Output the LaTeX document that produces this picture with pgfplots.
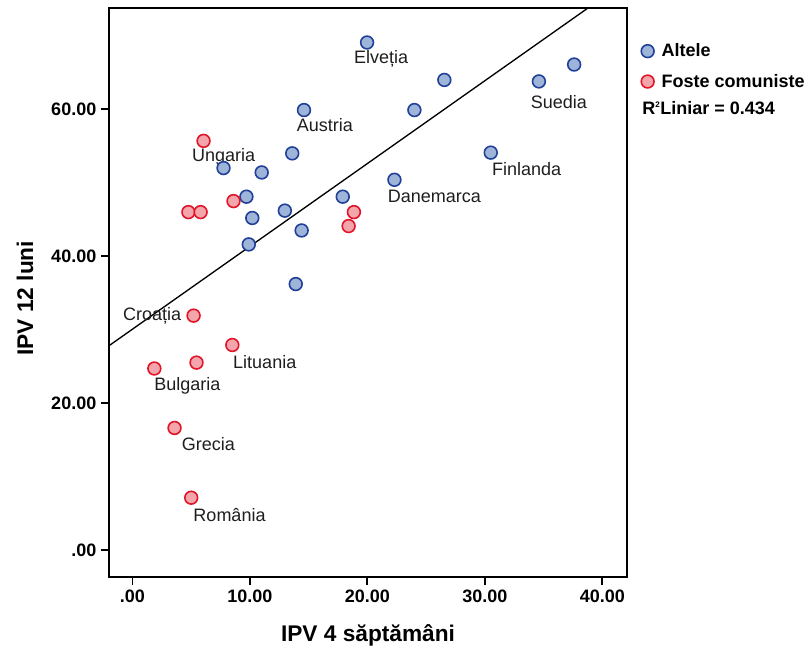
\documentclass[border=0pt]{standalone}
\usepackage{fontspec}
\setmainfont{Liberation Sans}
\usepackage{pgfplots}
\pgfplotsset{compat=1.18}
\definecolor{altFill}{RGB}{158,180,216}
\definecolor{altEdge}{RGB}{33,64,154}
\definecolor{comFill}{RGB}{242,166,172}
\definecolor{comEdge}{RGB}{226,20,40}
\definecolor{lblGray}{RGB}{30,30,30}
\tikzset{lbl/.style={font=\fontsize{13.5}{16}\selectfont, text=lblGray, inner sep=0pt}}

% IPV 4 weeks (x) vs IPV 12 months (y)
\pgfplotstableread{
x     y
19.97 69.1
26.55 64.0
34.60 63.8
37.60 66.1
14.60 59.9
24.00 59.9
30.50 54.1
13.60 54.0
7.75  52.0
11.00 51.4
22.30 50.4
9.70  48.1
17.90 48.1
12.97 46.2
10.20 45.2
14.40 43.5
9.90  41.6
13.90 36.2
}\altele

\pgfplotstableread{
x     y
6.05  55.7
8.60  47.5
4.76  46.0
5.80  46.0
18.85 46.0
18.40 44.1
5.20  31.9
8.50  27.9
5.45  25.5
1.86  24.7
3.58  16.6
5.00  7.1
}\comuniste

\begin{document}
\begin{tikzpicture}
\begin{axis}[
  scale only axis, clip=false,
  width=388.5pt, height=426.75pt,
  xmin=-2.0, xmax=42.1, ymin=-3.7, ymax=73.8,
  xtick={0,10,20,30,40},
  xticklabels={\textbf{.00},\textbf{10.00},\textbf{20.00},\textbf{30.00},\textbf{40.00}},
  ytick={0,20,40,60},
  yticklabels={\textbf{.00},\textbf{20.00},\textbf{40.00},\textbf{60.00}},
  /pgf/number format/assume math mode=true,
  tick align=outside, tick pos=left, major tick length=6pt,
  axis line style={line width=1.4pt},
  tick style={line width=1.4pt, black},
  ticklabel style={font=\fontsize{13.5}{16}\selectfont\bfseries},
  xlabel={IPV 4 săptămâni}, ylabel={IPV 12 luni},
  label style={font=\fontsize{17}{20}\selectfont\bfseries},
  xlabel style={at={(axis description cs:0.5,-0.102)}, anchor=center},
  ylabel style={at={(axis description cs:-0.162,0.49)}, anchor=center},
  legend style={at={(axis description cs:1.027,0.9425)}, anchor=north west,
    draw=none, fill=none, inner sep=0pt, row sep=7.5pt,
    font=\fontsize{13.5}{16}\selectfont\bfseries},
  legend cell align=left,
  legend image code/.code={\draw[#1] plot coordinates {(0pt,0pt)}; \path (8.2pt,0pt);},
]
\addplot[black, line width=1pt, forget plot] coordinates {(-2.0,27.8) (38.78,73.8)};

\addplot[only marks, mark=*, mark size=4.8pt,
  mark options={fill=altFill, draw=altEdge, line width=1.2pt}] table {\altele};
\addlegendentry{Altele}
\addplot[only marks, mark=*, mark size=4.8pt,
  mark options={fill=comFill, draw=comEdge, line width=1.2pt}] table {\comuniste};
\addlegendentry{Foste comuniste}

\node[lbl] at (axis cs:21.17,66.9) {Elveția};
\node[lbl] at (axis cs:16.38,57.9) {Austria};
\node[lbl] at (axis cs:7.75,53.5) {Ungaria};
\node[lbl] at (axis cs:36.3,61.0) {Suedia};
\node[lbl] at (axis cs:33.56,51.8) {Finlanda};
\node[lbl] at (axis cs:25.7,48.2) {Danemarca};
\node[lbl] at (axis cs:1.68,31.9) {Croația};
\node[lbl] at (axis cs:11.26,25.6) {Lituania};
\node[lbl] at (axis cs:4.68,22.3) {Bulgaria};
\node[lbl] at (axis cs:6.47,14.4) {Grecia};
\node[lbl] at (axis cs:8.26,4.8) {România};

\node[anchor=west, inner sep=0pt, font=\fontsize{13.5}{16}\selectfont\bfseries]
  at (axis description cs:1.029,0.824) {R\textsuperscript{\fontsize{6}{6}\selectfont 2}Liniar = 0.434};

\coordinate (sw) at (rel axis cs:0,0);
\coordinate (ne) at (rel axis cs:1,1);
\end{axis}
\pgfresetboundingbox
\path[use as bounding box] ([xshift=-81.75pt,yshift=-56.25pt]sw) rectangle ([xshift=138.75pt,yshift=6pt]ne);
\end{tikzpicture}
\end{document}
